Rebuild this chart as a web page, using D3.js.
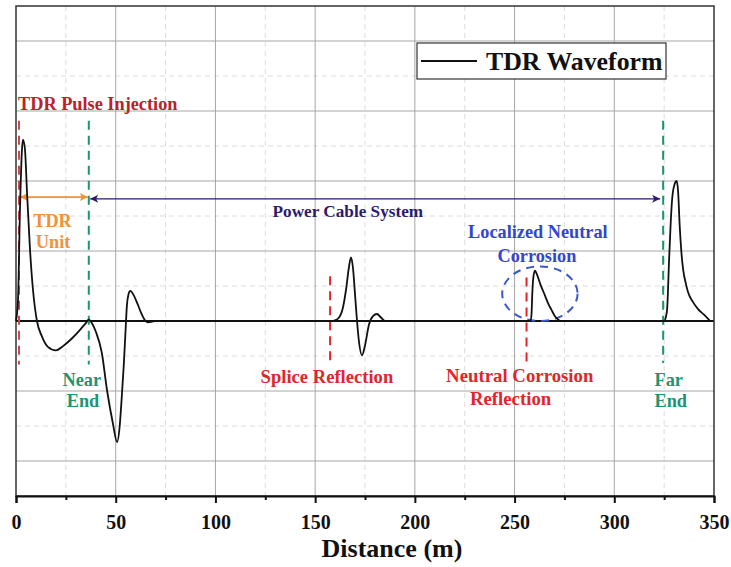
<!DOCTYPE html>
<html>
<head>
<meta charset="utf-8">
<script src="https://cdn.jsdelivr.net/npm/d3@7"></script>
</head>
<body style="margin:0">
<svg id="chart" width="731" height="567"></svg>
<script>
// ---- Waveform segments: [distance (m), amplitude] ----
const pulseSegment = [
  [0, 0], [1, 0.3], [2, 1.6], [3, 2.45], [3.5, 2.59], [4.5, 2.45], [5.5, 1.85],
  [7, 1.03], [8.5, 0.45], [10.5, 0], [13, -0.22], [16, -0.37], [20, -0.42],
  [24, -0.35], [28, -0.25], [32, -0.13], [35, -0.03], [36.5, 0.02], [38, -0.03],
  [40, -0.15], [43, -0.45], [45.7, -1.0], [48.5, -1.45], [50.7, -1.73],
  [52, -1.5], [53, -1.1], [54, -0.65], [55, -0.1], [55.6, 0.22], [56.4, 0.38],
  [57.3, 0.43], [59, 0.37], [61, 0.24], [63, 0.1], [65, 0], [66, -0.02], [70, 0]
];
const spliceSegment = [
  [146, 0], [158, 0], [160, 0.01], [162, 0.05], [164, 0.2], [165.5, 0.45],
  [167, 0.78], [168, 0.91], [169, 0.75], [170, 0.38], [171, 0], [172, -0.3],
  [173.5, -0.49], [175, -0.35], [177, -0.05], [179, 0.07], [181, 0.1],
  [183, 0.05], [185, 0], [193, 0]
];
const corrosionSegment = [
  [250, 0], [258, 0], [258.5, 0.1], [258.9, 0.4], [259.4, 0.62], [260.2, 0.72],
  [261, 0.68], [263, 0.52], [265.3, 0.36], [267, 0.24], [268.5, 0.16],
  [270, 0.08], [271.5, 0.03], [273, 0], [283, 0]
];
const farEndSegment = [
  [310, 0], [325, 0], [325.8, 0.05], [326.5, 0.17], [327.5, 0.89], [328.2, 1.35],
  [329, 1.74], [330.2, 1.95], [331.3, 2.0], [332, 1.85], [332.8, 1.36],
  [333.6, 1.0], [334.5, 0.74], [336, 0.52], [337, 0.41], [339.5, 0.27],
  [342, 0.17], [345, 0.09], [348, 0]
];
const segments = [pulseSegment, spliceSegment, corrosionSegment, farEndSegment];

// ---- Axis ticks ----
const xTickValues = [0, 50, 100, 150, 200, 250, 300, 350];
const xMinorTickValues = [25, 75, 125, 175, 225, 275, 325];
const yMajorGrid = [-2, -1, 1, 2, 3, 4];
const yMinorGrid = [-1.5, -0.5, 0.5, 1.5, 2.5, 3.5];

// ---- Event markers: distance (m), top / bottom amplitude ----
const pulseMarker = [1.5, 2.86, -0.62];
const nearEndMarker = [36.5, 2.86, -0.62];
const spliceMarker = [157.5, 0.64, -0.62];
const corrosionMarker = [256, 0.62, -0.62];
const farEndMarker = [324.5, 2.86, -0.6];

const xDomain = [0, 350];
const yDomain = [-2.5, 4.5];

const FONT = "'Liberation Serif'";

const svg = d3.select("#chart");
const plot = { left: 16, right: 714, top: 6, bottom: 496 };

const x = d3.scaleLinear().domain(xDomain).range([plot.left, plot.right]);
const y = d3.scaleLinear().domain(yDomain).range([plot.bottom, plot.top]);

const RED = "#e0262c", DARKRED = "#b8232b", GREEN = "#1c9572",
      ORANGE = "#f0923a", PURPLE = "#2d1a6c", BLUE = "#3346d0";

// Grid
const grid = svg.append("g");
grid.selectAll(".vminor").data(xMinorTickValues).join("line")
  .attr("x1", d => x(d)).attr("x2", d => x(d))
  .attr("y1", plot.top).attr("y2", plot.bottom)
  .attr("stroke", "#dcdcdc").attr("stroke-width", 1).attr("stroke-dasharray", "5,4");
grid.selectAll(".hminor").data(yMinorGrid).join("line")
  .attr("x1", plot.left).attr("x2", plot.right)
  .attr("y1", d => y(d)).attr("y2", d => y(d))
  .attr("stroke", "#dcdcdc").attr("stroke-width", 1).attr("stroke-dasharray", "5,4");
grid.selectAll(".vmajor").data(xTickValues.slice(1, -1)).join("line")
  .attr("x1", d => x(d)).attr("x2", d => x(d))
  .attr("y1", plot.top).attr("y2", plot.bottom)
  .attr("stroke", "#a6a6a6").attr("stroke-width", 1);
grid.selectAll(".hmajor").data(yMajorGrid).join("line")
  .attr("x1", plot.left).attr("x2", plot.right)
  .attr("y1", d => y(d)).attr("y2", d => y(d))
  .attr("stroke", "#a6a6a6").attr("stroke-width", 1);

// Zero baseline
svg.append("line")
  .attr("x1", plot.left).attr("x2", plot.right)
  .attr("y1", y(0)).attr("y2", y(0))
  .attr("stroke", "#111").attr("stroke-width", 2);

// Frame
svg.append("rect")
  .attr("x", plot.left).attr("y", plot.top)
  .attr("width", plot.right - plot.left).attr("height", plot.bottom - plot.top)
  .attr("fill", "none").attr("stroke", "#333").attr("stroke-width", 1.5);

// Bottom axis
const xAxis = d3.axisBottom(x).tickValues(xTickValues).tickSize(7).tickPadding(12)
  .tickFormat(d3.format("d"));
const axG = svg.append("g").attr("transform", `translate(0,${plot.bottom})`).call(xAxis);
axG.select(".domain").attr("stroke", "#111").attr("stroke-width", 2);
axG.selectAll(".tick line").attr("stroke", "#111").attr("stroke-width", 2);
axG.selectAll(".tick text").attr("fill", "#111")
  .attr("font-family", FONT).attr("font-weight", "bold").attr("font-size", 20);
const minorAxis = d3.axisBottom(x).tickValues(xMinorTickValues).tickSize(4).tickFormat("");
const mG = svg.append("g").attr("transform", `translate(0,${plot.bottom})`).call(minorAxis);
mG.select(".domain").remove();
mG.selectAll(".tick line").attr("stroke", "#111").attr("stroke-width", 2);

svg.append("text").attr("x", 392).attr("y", 557).attr("text-anchor", "middle")
  .attr("font-family", FONT).attr("font-weight", "bold")
  .attr("font-size", 26).attr("fill", "#111").text("Distance (m)");

// Marker lines
function marker(m, color) {
  svg.append("line")
    .attr("x1", x(m[0])).attr("x2", x(m[0]))
    .attr("y1", y(m[1])).attr("y2", y(m[2]))
    .attr("stroke", color).attr("stroke-width", 2).attr("stroke-dasharray", "9,6");
}
marker(pulseMarker, "#d0474c");
marker(nearEndMarker, GREEN);
marker(spliceMarker, RED);
marker(corrosionMarker, RED);
marker(farEndMarker, GREEN);

// Arrow heads
const defs = svg.append("defs");
function head(id, color) {
  defs.append("marker").attr("id", id)
    .attr("viewBox", "0 0 10 10").attr("refX", 10).attr("refY", 5)
    .attr("markerWidth", 11).attr("markerHeight", 8)
    .attr("markerUnits", "userSpaceOnUse").attr("orient", "auto-start-reverse")
    .append("path").attr("d", "M0,0 L10,5 L0,10 L2.5,5 Z").attr("fill", color);
}
head("hOrange", ORANGE);
head("hPurple", PURPLE);

svg.append("line")
  .attr("x1", x(2)).attr("x2", x(36))
  .attr("y1", y(1.77)).attr("y2", y(1.77))
  .attr("stroke", ORANGE).attr("stroke-width", 1.6)
  .attr("marker-start", "url(#hOrange)").attr("marker-end", "url(#hOrange)");
svg.append("line")
  .attr("x1", x(37.2)).attr("x2", x(323))
  .attr("y1", y(1.745)).attr("y2", y(1.745))
  .attr("stroke", PURPLE).attr("stroke-width", 1.4)
  .attr("marker-start", "url(#hPurple)").attr("marker-end", "url(#hPurple)");

// Dashed ellipse around corrosion reflection
svg.append("ellipse")
  .attr("cx", x(262.7)).attr("cy", y(0.39))
  .attr("rx", x(18.9) - x(0)).attr("ry", y(0) - y(0.39))
  .attr("fill", "none").attr("stroke", "#3d58c8").attr("stroke-width", 2)
  .attr("stroke-dasharray", "8,6");

// Waveform
const line = d3.line().x(d => x(d[0])).y(d => y(d[1])).curve(d3.curveMonotoneX);
svg.append("g").selectAll("path").data(segments).join("path")
  .attr("d", line).attr("fill", "none")
  .attr("stroke", "#111").attr("stroke-width", 1.8).attr("stroke-linejoin", "round");

// Annotation labels: [text, distance, amplitude, color, anchor, size]
const labels = [
  ["TDR Pulse Injection", 1.0, 3.01, DARKRED, "start", 18.3],
  ["TDR", 18.3, 1.34, ORANGE, "middle", 18.3],
  ["Unit", 18.6, 1.04, ORANGE, "middle", 18.3],
  ["Near", 33.0, -0.93, GREEN, "middle", 18.3],
  ["End", 33.6, -1.23, GREEN, "middle", 18.3],
  ["Power Cable System", 166.4, 1.49, PURPLE, "middle", 17.2],
  ["Splice Reflection", 155.9, -0.89, RED, "middle", 18.6],
  ["Localized Neutral", 261.7, 1.19, BLUE, "middle", 18.3],
  ["Corrosion", 261.2, 0.84, BLUE, "middle", 18.3],
  ["Neutral Corrosion", 252.6, -0.87, RED, "middle", 18.8],
  ["Reflection", 248.0, -1.2, RED, "middle", 18.8],
  ["Far", 327.3, -0.93, GREEN, "middle", 18.3],
  ["End", 328.3, -1.23, GREEN, "middle", 18.3]
];
svg.append("g").selectAll("text").data(labels).join("text")
  .attr("x", d => x(d[1])).attr("y", d => y(d[2]))
  .attr("text-anchor", d => d[4]).attr("fill", d => d[3])
  .attr("font-family", FONT).attr("font-weight", "bold")
  .attr("font-size", d => d[5]).text(d => d[0]);

// Legend
const lg = svg.append("g");
lg.append("rect").attr("x", 417).attr("y", 43).attr("width", 249).attr("height", 36)
  .attr("fill", "#fff").attr("stroke", "#333").attr("stroke-width", 1.2);
lg.append("line").attr("x1", 421).attr("x2", 477).attr("y1", 61).attr("y2", 61)
  .attr("stroke", "#111").attr("stroke-width", 1.8);
lg.append("text").attr("x", 486).attr("y", 70).attr("font-size", 25.8)
  .attr("font-family", FONT).attr("font-weight", "bold")
  .attr("fill", "#111").text("TDR Waveform");
</script>
</body>
</html>
